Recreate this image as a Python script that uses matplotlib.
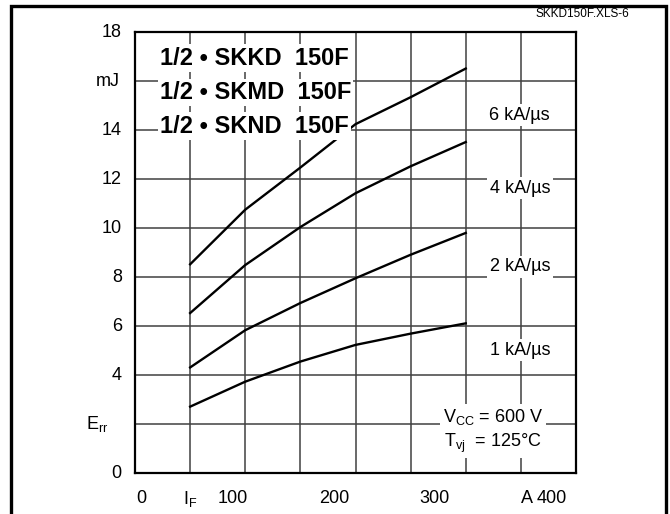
import matplotlib
matplotlib.use('Agg')
import matplotlib.pyplot as plt
from matplotlib.patches import Rectangle
from matplotlib.transforms import blended_transform_factory

plt.rcParams['font.family'] = ['Liberation Sans', 'DejaVu Sans']
plt.rcParams['mathtext.fontset'] = 'custom'
plt.rcParams['mathtext.rm'] = 'Liberation Sans'
plt.rcParams['mathtext.it'] = 'Liberation Sans'

# data
current = [50, 100, 150, 200, 250, 300]
err_1 = [2.72, 3.74, 4.56, 5.24, 5.70, 6.12]
err_2 = [4.32, 5.84, 6.95, 7.96, 8.92, 9.81]
err_4 = [6.54, 8.50, 10.05, 11.43, 12.53, 13.52]
err_6 = [8.53, 10.76, 12.48, 14.25, 15.35, 16.52]
curve_labels = ['1 kA/\u00b5s', '2 kA/\u00b5s', '4 kA/\u00b5s', '6 kA/\u00b5s']
label_y = [5.03, 8.42, 11.64, 14.62]
y_ticks = [0, 4, 6, 8, 10, 12, 14, 18]
x_labels = [(5.4, '0'), (50, '$\\mathregular{I_F}$'), (89, '100'), (180.5, '200'),
            (272, '300'), (355.5, 'A'), (378, '400')]
title_lines = ['1/2 \u2022 SKKD  150F', '1/2 \u2022 SKMD  150F', '1/2 \u2022 SKND  150F']
title_y = [16.95, 15.55, 14.17]

fig = plt.figure(figsize=(6.7, 5.14), dpi=100)
fig.patches.append(Rectangle((11 / 670, -0.05), 655 / 670, 1.05 - 6 / 514,
                             transform=fig.transFigure, fill=False,
                             edgecolor='black', linewidth=2.4))
ax = fig.add_axes([0.2015, 0.0792, 0.6582, 0.858])
ax.set_xlim(0, 400)
ax.set_ylim(0, 18)
for s in ax.spines.values():
    s.set_linewidth(1.6)
ax.set_xticks([])
ax.set_yticks([])

for gx in range(50, 400, 50):
    ax.axvline(gx, color='0.25', lw=1.1, zorder=1)
for gy in range(2, 18, 2):
    ax.axhline(gy, color='0.25', lw=1.1, zorder=1)

for ys in [err_1, err_2, err_4, err_6]:
    ax.plot(current, ys, color='black', lw=1.7, zorder=3)

for lab, ly in zip(curve_labels, label_y):
    ax.text(349, ly, lab, ha='center', va='center', fontsize=13, zorder=5,
            bbox=dict(facecolor='white', edgecolor='none', pad=2))

for t, ty in zip(title_lines, title_y):
    ax.text(22.5, ty, t, ha='left', va='center', fontsize=17,
            fontweight='bold', zorder=5,
            bbox=dict(facecolor='white', edgecolor='none', pad=1.5))

ax.text(325, 2.3, '$\\mathregular{V_{CC}}$ = 600 V', ha='center', va='center',
        fontsize=13, zorder=5, bbox=dict(facecolor='white', edgecolor='none', pad=2))
ax.text(325, 1.2, '$\\mathregular{T_{vj}}$  = 125\u00b0C', ha='center', va='center',
        fontsize=13, zorder=5, bbox=dict(facecolor='white', edgecolor='none', pad=2))

for yv in y_ticks:
    ax.text(-12, yv, str(yv), ha='right', va='center', fontsize=13, clip_on=False)
ax.text(-14, 16, 'mJ', ha='right', va='center', fontsize=13, clip_on=False)
ax.text(-24, 2, '$\\mathregular{E_{rr}}$', ha='right', va='center', fontsize=13,
        clip_on=False)

tr = blended_transform_factory(ax.transData, ax.transAxes)
for xv, t in x_labels:
    ax.text(xv, -0.058, t, ha='center', va='center', fontsize=13, transform=tr,
            clip_on=False)

fig.text(582 / 670, 1 - 14 / 514, 'SKKD150F.XLS-6', ha='center', va='center',
         fontsize=8.5)

fig.savefig('out.png', dpi=100)
